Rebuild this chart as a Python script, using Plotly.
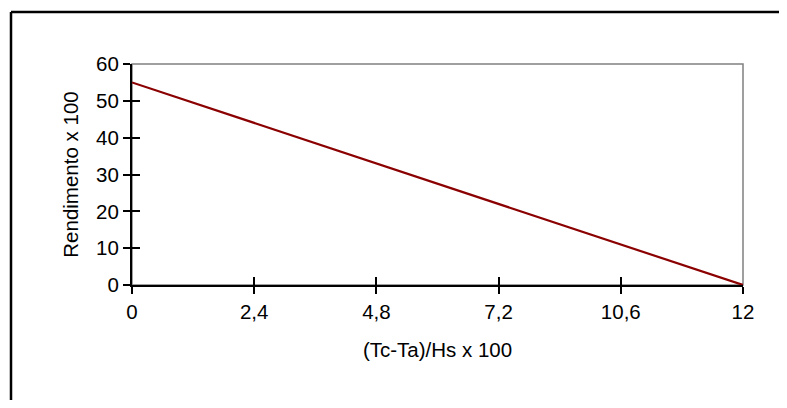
import plotly.graph_objects as go

# Data
x_labels = ["0", "2,4", "4,8", "7,2", "10,6", "12"]
rendimento = [55, 44, 33, 22, 11, 0]
y_ticks = [0, 10, 20, 30, 40, 50, 60]

x_title = "(Tc-Ta)/Hs x 100"
y_title = "Rendimento x 100"

FONT = "Liberation Sans, Arial, sans-serif"
FS = 20.5

fig = go.Figure()
fig.add_trace(go.Scatter(
    x=x_labels, y=rendimento, mode="lines",
    line=dict(color="#8B0000", width=2.2),
    hoverinfo="skip", showlegend=False,
))
# invisible trace to anchor the overlay axes (inside tick halves)
fig.add_trace(go.Scatter(
    x=x_labels, y=rendimento, mode="lines", xaxis="x2", yaxis="y2",
    line=dict(color="rgba(0,0,0,0)"), hoverinfo="skip", showlegend=False,
))

axis_common = dict(showgrid=False, zeroline=False, linecolor="black", linewidth=2,
                   tickcolor="black", tickwidth=2, tickfont=dict(family=FONT, size=FS, color="black"))

# figure is placed at (8,8) by the page's body margin
W, H = 771, 392
L, R, T, B = 124, 36, 56, 115
pw, ph = W - L - R, H - T - B
bx0 = (3 - L) / pw
bx1 = (W - L) / pw
by1 = 1 + (T - 4) / ph
by0 = -(B) / ph

fig.update_layout(
    width=W, height=H,
    margin=dict(l=L, r=R, t=T, b=B),
    paper_bgcolor="white", plot_bgcolor="white",
    font=dict(family=FONT, size=FS, color="black"),
    xaxis=dict(
        type="category", range=[0, len(x_labels) - 1],
        showline=True, ticks="outside", ticklen=7,
        title=dict(text=x_title, font=dict(family=FONT, size=FS), standoff=21),
        **axis_common,
    ),
    yaxis=dict(
        range=[0, 60], tickvals=y_ticks, ticktext=[str(v) for v in y_ticks],
        showline=True, ticks="outside", ticklen=7,
        title=dict(text=y_title, font=dict(family=FONT, size=FS), standoff=12),
        **axis_common,
    ),
    xaxis2=dict(
        type="category", range=[0, len(x_labels) - 1], overlaying="x", anchor="y",
        side="bottom", showline=False, ticks="inside", ticklen=8, tickwidth=2,
        tickcolor="black", showticklabels=False, showgrid=False, zeroline=False,
    ),
    yaxis2=dict(
        range=[0, 60], tickvals=y_ticks, overlaying="y", anchor="x", side="left",
        showline=False, ticks="inside", ticklen=8, tickwidth=2, tickcolor="black",
        showticklabels=False, showgrid=False, zeroline=False,
    ),
    shapes=[
        # gray plot frame (top/right)
        dict(type="rect", xref="x domain", yref="y domain", x0=0, y0=0, x1=1, y1=1,
             line=dict(color="#808080", width=1.5), layer="below"),
        # outer chart border: top and left edges only
        dict(type="line", xref="paper", yref="paper", x0=bx0, y0=by1, x1=bx1, y1=by1,
             line=dict(color="black", width=2.5), layer="above"),
        dict(type="line", xref="paper", yref="paper", x0=bx0, y0=by1, x1=bx0, y1=by0,
             line=dict(color="black", width=2.5), layer="above"),
    ],
)

fig.write_html("out.html", config={"displayModeBar": False})
